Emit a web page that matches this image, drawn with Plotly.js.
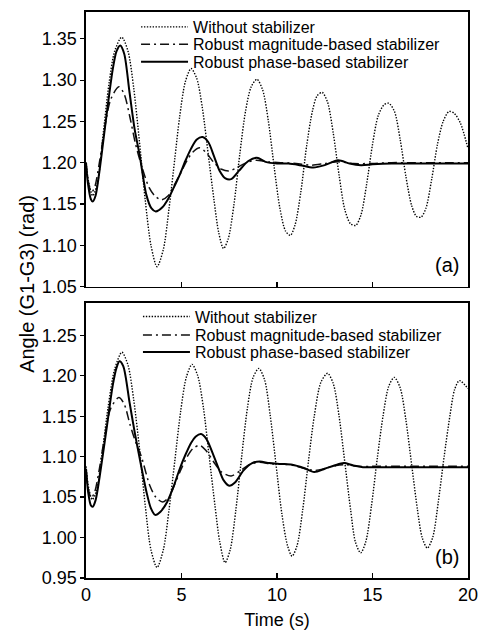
<!DOCTYPE html>
<html><head><meta charset="utf-8">
<script src="https://cdn.plot.ly/plotly-3.0.1.min.js"></script>
<style>html,body{margin:0;padding:0;background:#fff}</style>
</head><body><div id="chart" style="width:481px;height:630px"></div>
<script>
const seriesNames = ["Without stabilizer", "Robust magnitude-based stabilizer", "Robust phase-based stabilizer"];
const panelLabels = ["(a)", "(b)"];
const xTitle = "Time (s)";
const yTitle = "Angle (G1-G3) (rad)";

// ---- Panel (a) ----
const tWithoutA = [0,0.15,0.35,0.6,0.9,1.2,1.5,1.87,2.2,2.5,2.8,3.1,3.4,3.72,4.05,4.35,4.65,4.9,5.2,5.5,5.8,6.1,6.4,6.7,6.95,7.2,7.45,7.75,8.05,8.35,8.65,8.95,9.25,9.55,9.85,10.15,10.45,10.7,10.95,11.25,11.55,11.85,12.1,12.37,12.65,12.95,13.25,13.55,13.85,14.12,14.4,14.7,15.0,15.3,15.6,15.85,16.15,16.45,16.75,17.05,17.3,17.54,17.8,18.1,18.4,18.7,19.0,19.27,19.6,20];
const withoutA = [1.200,1.175,1.160,1.175,1.235,1.295,1.335,1.352,1.335,1.290,1.225,1.155,1.100,1.074,1.095,1.145,1.205,1.255,1.298,1.314,1.302,1.265,1.210,1.155,1.115,1.096,1.108,1.150,1.210,1.262,1.292,1.301,1.288,1.250,1.195,1.145,1.117,1.112,1.125,1.165,1.220,1.262,1.281,1.285,1.273,1.235,1.185,1.143,1.126,1.124,1.137,1.175,1.222,1.257,1.270,1.272,1.262,1.228,1.183,1.148,1.135,1.134,1.145,1.180,1.222,1.250,1.262,1.260,1.248,1.217];

const tMagA = [0,0.1,0.28,0.45,0.7,1.0,1.3,1.72,2.0,2.3,2.6,2.9,3.3,3.6,3.95,4.3,4.6,4.9,5.3,5.6,5.96,6.3,6.7,7.1,7.5,7.9,8.4,8.9,9.5,10.2,11.0,11.8,12.5,13.2,14.0,15,16,17,18,19,20];
const magA = [1.200,1.180,1.164,1.170,1.200,1.245,1.277,1.292,1.283,1.255,1.222,1.197,1.170,1.160,1.155,1.160,1.172,1.185,1.203,1.213,1.218,1.212,1.200,1.192,1.190,1.194,1.200,1.203,1.201,1.200,1.199,1.197,1.199,1.201,1.199,1.199,1.200,1.200,1.200,1.200,1.200];

const tPhaseA = [0,0.1,0.25,0.35,0.5,0.7,1.05,1.4,1.6,1.79,2.0,2.28,2.55,2.81,3.16,3.42,3.65,4.0,4.3,4.6,4.9,5.2,5.5,5.8,6.1,6.4,6.7,7.0,7.3,7.6,8.0,8.5,8.95,9.4,10.0,10.6,11.2,11.9,12.5,13.2,13.8,14.4,15,16,17,18,19,20];
const phaseA = [1.200,1.175,1.156,1.153,1.160,1.189,1.253,1.313,1.335,1.342,1.332,1.285,1.240,1.209,1.161,1.145,1.141,1.146,1.156,1.170,1.185,1.202,1.217,1.228,1.231,1.225,1.208,1.190,1.181,1.180,1.190,1.202,1.206,1.201,1.199,1.199,1.197,1.194,1.197,1.203,1.199,1.197,1.198,1.199,1.199,1.199,1.199,1.199];

// ---- Panel (b) ----
const tWithoutB = [0,0.15,0.33,0.55,0.85,1.15,1.5,1.88,2.2,2.5,2.8,3.1,3.4,3.72,4.05,4.35,4.65,4.95,5.25,5.55,5.85,6.15,6.45,6.75,7.0,7.28,7.55,7.85,8.15,8.45,8.75,9.05,9.35,9.65,9.95,10.25,10.55,10.79,11.05,11.35,11.65,11.95,12.3,12.65,12.95,13.25,13.55,13.85,14.1,14.38,14.65,14.95,15.25,15.55,15.85,16.14,16.45,16.75,17.05,17.35,17.6,17.87,18.15,18.45,18.75,19.05,19.3,19.55,20];
const withoutB = [1.088,1.060,1.047,1.058,1.105,1.160,1.208,1.229,1.213,1.170,1.110,1.040,0.985,0.963,0.985,1.035,1.095,1.155,1.198,1.214,1.200,1.160,1.100,1.040,0.995,0.969,0.985,1.035,1.100,1.160,1.198,1.209,1.195,1.150,1.090,1.030,0.990,0.977,0.990,1.035,1.095,1.150,1.192,1.203,1.190,1.150,1.093,1.035,0.995,0.981,0.995,1.040,1.098,1.150,1.187,1.198,1.185,1.145,1.090,1.035,1.000,0.987,1.000,1.045,1.100,1.150,1.183,1.194,1.184];

const tMagB = [0,0.12,0.27,0.45,0.7,1.0,1.3,1.72,2.0,2.3,2.6,2.9,3.33,3.65,4.0,4.35,4.65,4.95,5.3,5.6,5.96,6.3,6.67,7.1,7.6,8.1,8.6,9.1,9.7,10.3,10.9,11.5,12.0,12.6,13.1,13.6,14.2,15,16,17,18,19,20];
const magB = [1.085,1.060,1.049,1.056,1.085,1.128,1.160,1.173,1.165,1.140,1.118,1.100,1.065,1.050,1.044,1.050,1.066,1.083,1.100,1.110,1.114,1.107,1.094,1.081,1.076,1.083,1.091,1.093,1.091,1.091,1.089,1.085,1.083,1.086,1.089,1.090,1.088,1.088,1.088,1.088,1.088,1.088,1.088];

const tPhaseB = [0,0.12,0.25,0.35,0.5,0.7,1.05,1.4,1.6,1.75,1.95,2.28,2.55,2.81,3.16,3.4,3.62,3.9,4.25,4.6,4.91,5.2,5.5,5.75,6.02,6.3,6.67,6.95,7.2,7.5,7.8,8.25,8.7,9.1,9.6,10.2,10.8,11.4,11.95,12.5,13.0,13.5,14.0,14.5,15,16,17,18,19,20];
const phaseB = [1.085,1.055,1.040,1.038,1.046,1.073,1.130,1.188,1.210,1.218,1.212,1.167,1.130,1.098,1.057,1.036,1.028,1.032,1.044,1.064,1.085,1.102,1.117,1.125,1.128,1.122,1.102,1.085,1.071,1.064,1.068,1.083,1.092,1.094,1.092,1.091,1.090,1.086,1.081,1.085,1.089,1.092,1.089,1.087,1.087,1.087,1.087,1.087,1.087,1.087];

const yTicksA = [1.05,1.10,1.15,1.20,1.25,1.30,1.35];
const yTicksB = [0.95,1.00,1.05,1.10,1.15,1.20,1.25];
const xTicks = [0,5,10,15,20];

const FONT = "Liberation Sans, Arial, Helvetica, sans-serif";
const dotStyle = {color:"#000", width:1.4, dash:"1.4px,1.5px", shape:"spline", smoothing:0.8};
const dashDotStyle = {color:"#111", width:1.5, dash:"9px,4px,2px,4px", shape:"spline", smoothing:0.8};
const solidStyle = {color:"#000", width:2.0, shape:"spline", smoothing:0.8};

function tr(x, y, name, line, xa, ya, leg) {
  return {x:x, y:y, name:name, type:"scatter", mode:"lines", line:line, xaxis:xa, yaxis:ya, legend:leg, showlegend:true, hoverinfo:"skip"};
}

const data = [
  tr(tWithoutA, withoutA, seriesNames[0], dotStyle, "x", "y", "legend"),
  tr(tMagA, magA, seriesNames[1], dashDotStyle, "x", "y", "legend2"),
  tr(tPhaseA, phaseA, seriesNames[2], solidStyle, "x", "y", "legend3"),
  tr(tWithoutB, withoutB, seriesNames[0], dotStyle, "x2", "y2", "legend4"),
  tr(tMagB, magB, seriesNames[1], dashDotStyle, "x2", "y2", "legend5"),
  tr(tPhaseB, phaseB, seriesNames[2], solidStyle, "x2", "y2", "legend6")
];

function leg(x, y) {
  return {x:x, y:y, xanchor:"left", yanchor:"middle", bgcolor:"rgba(0,0,0,0)", borderwidth:0,
          font:{family:FONT, size:16, color:"#000"}, itemwidth:47};
}

const axisBase = {
  showline:true, mirror:true, linecolor:"#000", linewidth:1.6, showgrid:false, zeroline:false,
  tickcolor:"#000", tickwidth:1.2, tickfont:{family:FONT, size:18, color:"#000"}
};

const layout = {
  width:481, height:630,
  margin:{l:86, r:13, t:10, b:52},
  paper_bgcolor:"#fff", plot_bgcolor:"#fff",
  font:{family:FONT, color:"#000"},
  xaxis: Object.assign({}, axisBase, {domain:[0,1], range:[0,20], anchor:"y", tickvals:xTicks, ticks:"inside", ticklen:5, showticklabels:false}),
  yaxis: Object.assign({}, axisBase, {domain:[0.515,1], range:[1.05,1.3825], tickvals:yTicksA, tickformat:".2f", ticks:"outside", ticklen:4}),
  xaxis2: Object.assign({}, axisBase, {domain:[0,1], range:[0,20], anchor:"y2", matches:"x", tickvals:xTicks, ticks:"inside", ticklen:5,
           title:{text:xTitle, font:{family:FONT, size:18, color:"#000"}, standoff:12}}),
  yaxis2: Object.assign({}, axisBase, {domain:[0,0.486], range:[0.95,1.29], anchor:"x2", tickvals:yTicksB, tickformat:".2f", ticks:"outside", ticklen:4}),
  legend: leg(0.131, 0.9736),
  legend2: leg(0.131, 0.9430),
  legend3: leg(0.131, 0.9120),
  legend4: leg(0.136, 0.4618),
  legend5: leg(0.136, 0.4290),
  legend6: leg(0.136, 0.3990),
  annotations: [
    {text:panelLabels[0], xref:"paper", yref:"paper", x:0.946, y:0.553, xanchor:"center", yanchor:"middle", showarrow:false, font:{family:FONT, size:20, color:"#000"}},
    {text:panelLabels[1], xref:"paper", yref:"paper", x:0.946, y:0.0375, xanchor:"center", yanchor:"middle", showarrow:false, font:{family:FONT, size:20, color:"#000"}},
    {text:yTitle, xref:"paper", yref:"paper", x:-0.154, y:0.520, xanchor:"center", yanchor:"middle", textangle:-90, showarrow:false, font:{family:FONT, size:20, color:"#000"}}
  ]
};

Plotly.newPlot("chart", data, layout, {staticPlot:true, displayModeBar:false});
</script>
</body></html>
